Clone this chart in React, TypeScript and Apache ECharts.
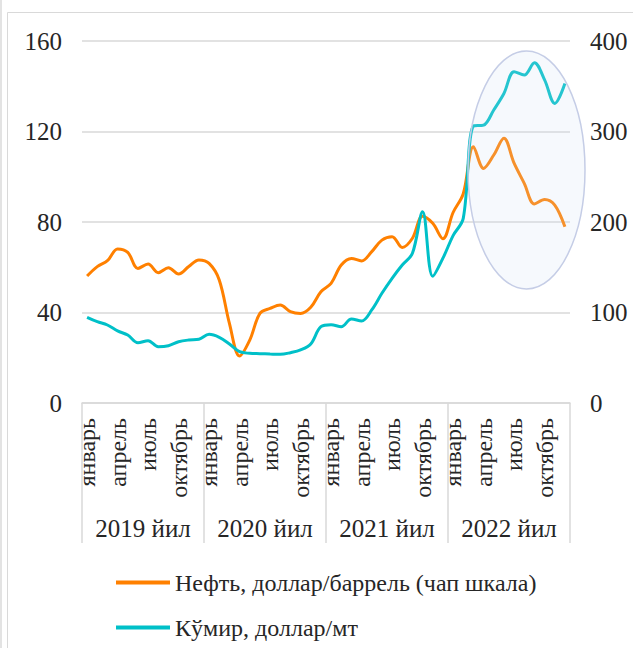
import React, { useEffect, useRef } from "react";
import * as echarts from "echarts";

const monthNames = ["январь", "февраль", "март", "апрель", "май", "июнь", "июль", "август", "сентябрь", "октябрь", "ноябрь", "декабрь"];
const years = ["2019 йил", "2020 йил", "2021 йил", "2022 йил"];
const monthKeys = years.flatMap((y) => monthNames.map((m) => `${m} ${y}`));

const oilName = "Нефть, доллар/баррель (чап шкала)";
const coalName = "Кўмир, доллар/мт";

const oil = [
  56.1, 60.3, 62.9, 68.1, 66.6, 59.5, 61.4, 57.6, 59.8, 57.0, 60.3, 63.2,
  61.7, 54.4, 35.2, 20.8, 27.8, 39.6, 41.8, 43.3, 40.4, 39.6, 42.3, 49.2,
  52.9, 61.0, 63.9, 62.8, 66.9, 72.0, 73.5, 68.7, 72.8, 82.5, 79.4, 72.6,
  84.2, 92.5, 113.3, 103.7, 109.6, 117.0, 106.0, 97.1, 88.0, 90.0, 87.5, 77.9,
];
const coal = [
  94.7, 89.9, 86.2, 79.6, 75.1, 66.6, 68.8, 62.2, 63.3, 67.7, 69.6, 70.4,
  75.9, 72.6, 65.2, 56.7, 54.9, 54.5, 54.1, 53.8, 55.6, 58.6, 65.2, 84.3,
  86.5, 84.3, 92.8, 90.6, 102.8, 121.2, 137.8, 152.5, 165.4, 211.4, 140.0, 160.0,
  185.0, 204.0, 306.0, 307.0, 323.8, 342.0, 366.0, 362.4, 376.0, 357.0, 331.0, 353.0,
];

const FONT = "Liberation Serif, Times New Roman, serif";
const TEXT = "#262626";
const GRIDC = "#D9D9D9";

export default function App() {
  const ref = useRef<HTMLDivElement>(null);
  useEffect(() => {
    document.body.style.margin = "0";
    if (!ref.current) return;
    const chart = echarts.init(ref.current, null, { renderer: "svg" });
    const lbl = { fontSize: 25, color: TEXT, fontFamily: FONT };
    chart.setOption({
      animation: false,
      textStyle: { fontFamily: FONT },
      grid: { left: 82, right: 63, top: 41, bottom: 245, containLabel: false },
      xAxis: [
        {
          type: "category",
          data: monthKeys,
          boundaryGap: true,
          position: "bottom",
          axisLine: { show: true, lineStyle: { color: GRIDC, width: 1.5 } },
          axisTick: { show: false },
          splitLine: { show: false },
          axisLabel: {
            ...lbl,
            fontSize: 24,
            interval: 2,
            rotate: 90,
            margin: 15,
            formatter: (_v: string, i: number) => monthNames[i % 12],
          },
        },
        {
          type: "category",
          data: years,
          boundaryGap: true,
          position: "bottom",
          axisLine: { show: false },
          axisTick: { show: true, length: 140, interval: 0, lineStyle: { color: GRIDC, width: 1.5 } },
          splitLine: { show: false },
          axisLabel: { ...lbl, interval: 0, margin: 113 },
        },
      ],
      yAxis: [
        {
          type: "value",
          min: 0,
          max: 160,
          interval: 40,
          position: "left",
          axisLine: { show: false },
          axisTick: { show: false },
          axisLabel: { ...lbl, margin: 20 },
          splitLine: { show: true, lineStyle: { color: GRIDC, width: 1.5 } },
        },
        {
          type: "value",
          min: 0,
          max: 400,
          interval: 100,
          position: "right",
          axisLine: { show: false },
          axisTick: { show: false },
          axisLabel: { ...lbl, margin: 20 },
          splitLine: { show: false },
        },
      ],
      legend: {
        orient: "vertical",
        left: 116,
        top: 570,
        padding: 0,
        icon: "rect",
        itemWidth: 54,
        itemHeight: 4,
        itemGap: 20,
        textStyle: { ...lbl, fontSize: 24, lineHeight: 25 },
        data: [oilName, coalName],
      },
      series: [
        {
          name: oilName,
          type: "line",
          data: oil,
          xAxisIndex: 0,
          yAxisIndex: 0,
          smooth: 0.35,
          symbol: "none",
          showSymbol: false,
          lineStyle: { color: "#FF8000", width: 3 },
          itemStyle: { color: "#FF8000" },
        },
        {
          name: coalName,
          type: "line",
          data: coal,
          xAxisIndex: 0,
          yAxisIndex: 1,
          smooth: 0.35,
          symbol: "none",
          showSymbol: false,
          lineStyle: { color: "#00C0C8", width: 3 },
          itemStyle: { color: "#00C0C8" },
        },
      ],
      graphic: {
        elements: [
          {
            type: "ellipse",
            z: 100,
            shape: { cx: 526.5, cy: 170, rx: 58.5, ry: 119 },
            style: { fill: "rgba(205,220,245,0.18)", stroke: "#C5CDE6", lineWidth: 1.5 },
          },
          {
            type: "rect",
            z: 100,
            shape: { x: 7.5, y: 12.5, width: 700, height: 700 },
            style: { fill: "none", stroke: "#D9D9D9", lineWidth: 1 },
          },
          {
            type: "line",
            z: 100,
            shape: { x1: 1, y1: 0, x2: 1, y2: 648 },
            style: { stroke: "#E3E3E3", lineWidth: 2 },
          },
        ],
      },
    });
    return () => chart.dispose();
  }, []);
  return <div ref={ref} style={{ width: 633, height: 648 }} />;
}
